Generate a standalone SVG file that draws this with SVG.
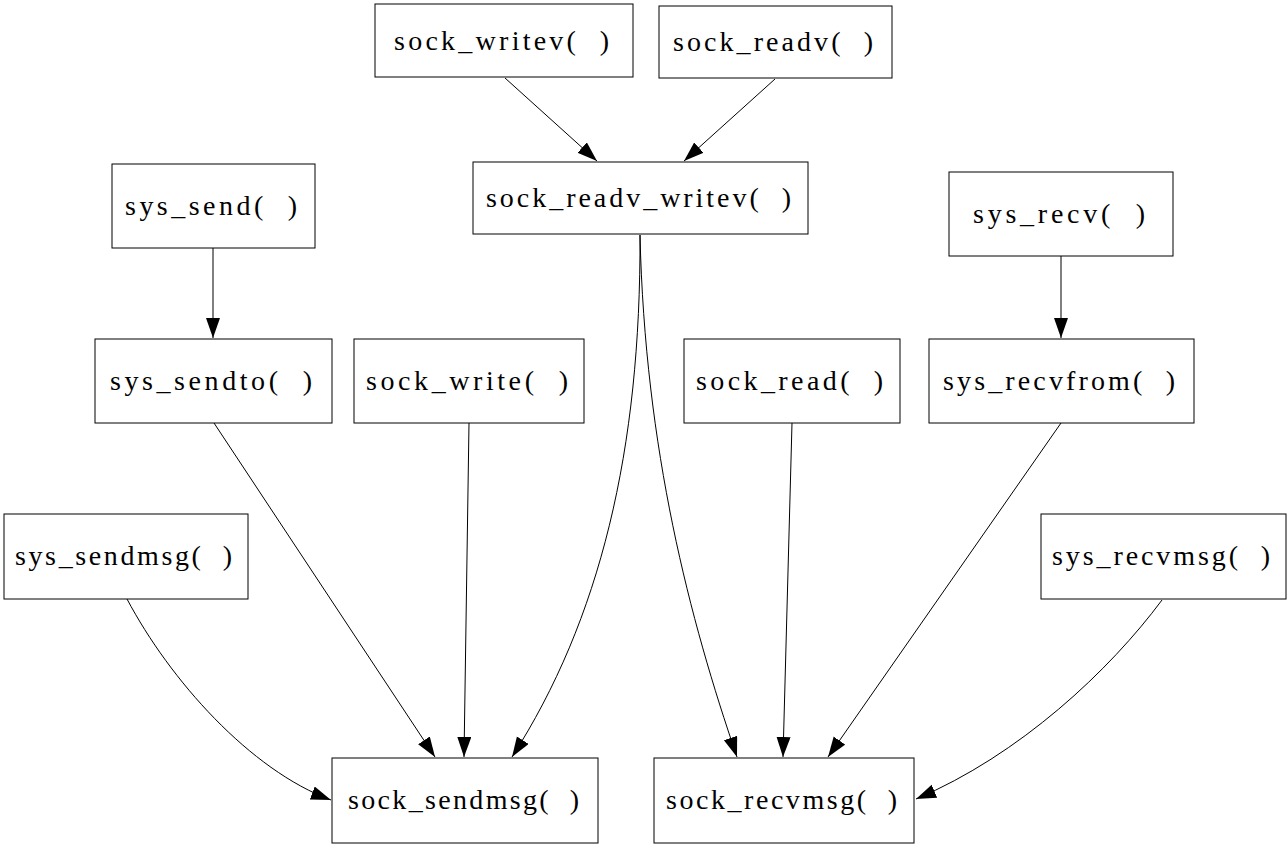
<svg xmlns="http://www.w3.org/2000/svg" width="1288" height="847" viewBox="0 0 1288 847">
<style>
.box{fill:#fff;stroke:#000;stroke-width:1}
.lbl{font-family:"Liberation Serif","Noto Sans CJK SC",serif;font-size:28px;fill:#000;white-space:pre}
.edge{fill:none;stroke:#000;stroke-width:1;marker-end:url(#arr)}
</style>
<defs>
<marker id="arr" markerUnits="userSpaceOnUse" markerWidth="22" markerHeight="16" refX="20" refY="7" orient="auto">
<path d="M0,0 L20,7 L0,14 z" fill="#000"/>
</marker>
</defs>
<rect width="1288" height="847" fill="#fff"/>
<g id="connectors">
<path class="edge" d="M505,78 L597,161"/>
<path class="edge" d="M775,79 L684,161"/>
<path class="edge" d="M213,248 L213,338"/>
<path class="edge" d="M1061,256 L1061,338"/>
<path class="edge" d="M640,235 C641,450 600,620 512,757"/>
<path class="edge" d="M640,235 C645,450 690,620 737,757"/>
<path class="edge" d="M214,423 L435,757"/>
<path class="edge" d="M469,423 L464,757"/>
<path class="edge" d="M792,423 L783,757"/>
<path class="edge" d="M1061,423 L828,757"/>
<path class="edge" d="M127,599 C170,680 250,770 331,800"/>
<path class="edge" d="M1162,600 C1110,670 1020,755 916,799"/>
</g>
<g id="sock_writev"><rect class="box" x="375" y="4" width="258" height="73"/><text class="lbl" x="394" y="50" textLength="215" lengthAdjust="spacing">sock_writev(  )</text></g>
<g id="sock_readv"><rect class="box" x="659" y="6" width="233" height="72"/><text class="lbl" x="673" y="51" textLength="200" lengthAdjust="spacing">sock_readv(  )</text></g>
<g id="sock_readv_writev"><rect class="box" x="473" y="162" width="335" height="72"/><text class="lbl" x="486" y="207" textLength="305" lengthAdjust="spacing">sock_readv_writev(  )</text></g>
<g id="sys_send"><rect class="box" x="112" y="164" width="203" height="84"/><text class="lbl" x="125" y="215" textLength="172" lengthAdjust="spacing">sys_send(  )</text></g>
<g id="sys_recv"><rect class="box" x="949" y="172" width="224" height="84"/><text class="lbl" x="973" y="223" textLength="172" lengthAdjust="spacing">sys_recv(  )</text></g>
<g id="sys_sendto"><rect class="box" x="95" y="339" width="237" height="84"/><text class="lbl" x="110" y="390" textLength="202" lengthAdjust="spacing">sys_sendto(  )</text></g>
<g id="sock_write"><rect class="box" x="354" y="339" width="230" height="84"/><text class="lbl" x="366" y="390" textLength="202" lengthAdjust="spacing">sock_write(  )</text></g>
<g id="sock_read"><rect class="box" x="684" y="339" width="216" height="84"/><text class="lbl" x="696" y="390" textLength="187" lengthAdjust="spacing">sock_read(  )</text></g>
<g id="sys_recvfrom"><rect class="box" x="929" y="339" width="265" height="84"/><text class="lbl" x="943" y="390" textLength="232" lengthAdjust="spacing">sys_recvfrom(  )</text></g>
<g id="sys_sendmsg"><rect class="box" x="4" y="514" width="244" height="85"/><text class="lbl" x="15" y="565" textLength="217" lengthAdjust="spacing">sys_sendmsg(  )</text></g>
<g id="sys_recvmsg"><rect class="box" x="1041" y="514" width="245" height="85"/><text class="lbl" x="1052" y="565" textLength="218" lengthAdjust="spacing">sys_recvmsg(  )</text></g>
<g id="sock_sendmsg"><rect class="box" x="332" y="758" width="266" height="85"/><text class="lbl" x="348" y="809" textLength="231" lengthAdjust="spacing">sock_sendmsg(  )</text></g>
<g id="sock_recvmsg"><rect class="box" x="654" y="758" width="260" height="85"/><text class="lbl" x="666" y="809" textLength="231" lengthAdjust="spacing">sock_recvmsg(  )</text></g>
</svg>
